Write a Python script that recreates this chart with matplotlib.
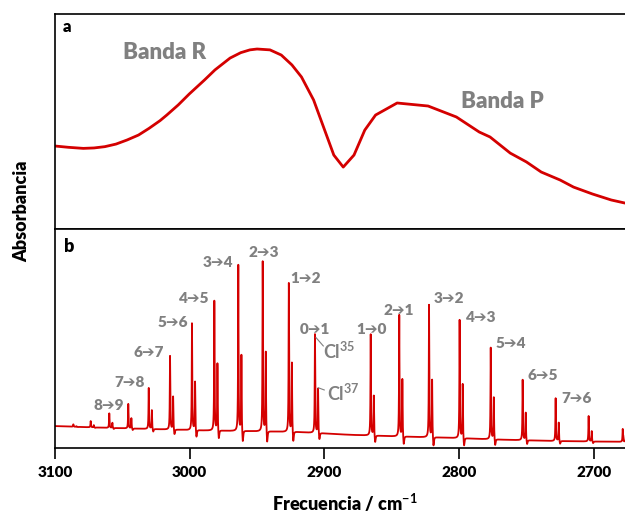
import numpy as np
import matplotlib.pyplot as plt

plt.rcParams['font.family'] = ['Lato', 'DejaVu Sans']
plt.rcParams['font.weight'] = 'bold'
plt.rcParams['mathtext.fontset'] = 'custom'
plt.rcParams['mathtext.rm'] = 'Lato:bold'
plt.rcParams['mathtext.bf'] = 'Lato:bold'

RED = '#d40000'
GREY = '#808080'

# --- panel a: low resolution envelope ---
env_freq = [3100, 3090.1, 3079, 3071.0, 3063, 3054.7, 3046.5, 3038, 3030.2,
            3022.0, 3017, 3008.5, 3000.3, 2989, 2981.2, 2970, 2962.1, 2955.3,
            2950, 2940.4, 2932, 2924.1, 2917, 2908, 2893, 2886, 2878, 2870,
            2862, 2846, 2823, 2802, 2785, 2777, 2762, 2750, 2739, 2725, 2715,
            2701, 2687, 2677]
env_abs = [0.386, 0.380, 0.375, 0.377, 0.383, 0.395, 0.414, 0.437, 0.468,
           0.504, 0.530, 0.577, 0.628, 0.693, 0.740, 0.795, 0.820, 0.833,
           0.837, 0.833, 0.809, 0.763, 0.707, 0.600, 0.344, 0.288, 0.344,
           0.460, 0.530, 0.586, 0.572, 0.521, 0.451, 0.428, 0.353, 0.312,
           0.265, 0.228, 0.195, 0.163, 0.135, 0.121]

# --- panel b: high resolution spectrum ---
base_freq = [3100, 3067, 2992, 2918, 2881, 2844, 2807, 2770, 2732, 2695, 2676]
base_abs = [0.100, 0.093, 0.080, 0.072, 0.060, 0.052, 0.046, 0.038, 0.032, 0.029, 0.028]

# R branch (Cl35 position, Cl35 top, Cl37 top)
r_freq = [2907.0, 2926.4, 2945.8, 2963.9, 2981.7, 2998.3, 3014.6, 3030.4,
          3045.6, 3059.7, 3073.5, 3086.4]
r_top35 = [0.519, 0.752, 0.851, 0.836, 0.671, 0.569, 0.420, 0.274, 0.201,
           0.158, 0.123, 0.108]
r_top37 = [0.274, 0.393, 0.443, 0.429, 0.389, 0.306, 0.237, 0.174, 0.137,
           0.116, 0.105, 0.100]
# P branch
p_freq = [2865.6, 2844.4, 2822.3, 2799.6, 2776.5, 2752.8, 2728.3, 2703.8, 2678.5]
p_top35 = [0.519, 0.607, 0.653, 0.584, 0.458, 0.311, 0.227, 0.146, 0.087]
p_top37 = [0.242, 0.318, 0.315, 0.295, 0.234, 0.163, 0.117, 0.078, 0.060]

r_labels = ['0➔1', '1➔2', '2➔3', '3➔4', '4➔5', '5➔6', '6➔7', '7➔8', '8➔9']
p_labels = ['1➔0', '2➔1', '3➔2', '4➔3', '5➔4', '6➔5', '7➔6']
r_label_pos = [(2907.2, 0.542), (2913.8, 0.775), (2945.2, 0.894), (2978.8, 0.848),
               (2996.7, 0.683), (3012.8, 0.572), (3030.1, 0.437), (3044.9, 0.298),
               (3059.8, 0.196)]
p_label_pos = [(2865.3, 0.542), (2844.5, 0.630), (2807.6, 0.683), (2783.4, 0.597),
               (2761.3, 0.478), (2737.6, 0.331), (2712.8, 0.227)]

shift37 = 2.3


def lorentz(x, c, g):
    return g ** 2 / ((x - c) ** 2 + g ** 2)


x = np.linspace(3100, 2676, 24000)
y = np.interp(x, base_freq[::-1], base_abs[::-1])
centres = r_freq + p_freq
tops35 = r_top35 + p_top35
tops37 = r_top37 + p_top37
for c, t35, t37 in zip(centres, tops35, tops37):
    b = np.interp(c, base_freq[::-1], base_abs[::-1])
    h35 = t35 - b
    h37 = t37 - b
    y = y + h35 * lorentz(x, c, 0.2)
    y = y + h37 * lorentz(x, c - shift37, 0.2)
    y = y - 0.08 * h35 * lorentz(x, c - shift37 - 1.0, 0.4)

fig = plt.figure(figsize=(6.25, 5.17), dpi=100)
ax_a = fig.add_axes([0.088, 0.557, 0.912, 0.416])
ax_b = fig.add_axes([0.088, 0.1335, 0.912, 0.4235], sharex=ax_a)

ax_a.plot(env_freq, env_abs, color=RED, lw=2.0)
ax_a.set_ylim(0, 1)
ax_a.text(3019, 0.823, 'Banda R', color=GREY, fontsize=16, fontweight='heavy',
          ha='center', va='center')
ax_a.text(2768, 0.595, 'Banda P', color=GREY, fontsize=16, fontweight='heavy',
          ha='center', va='center')
ax_a.text(0.014, 0.94, 'a', transform=ax_a.transAxes, fontsize=12,
          fontweight='heavy', va='center', ha='left')

ax_b.plot(x, y, color=RED, lw=1.3)
ax_b.set_ylim(0, 1)
ax_b.text(0.016, 0.919, 'b', transform=ax_b.transAxes, fontsize=13,
          fontweight='heavy', va='center', ha='left')
for lab, (lx, ly) in zip(r_labels + p_labels, r_label_pos + p_label_pos):
    ax_b.text(lx, ly, lab, color=GREY, fontsize=11, fontweight='heavy',
              ha='center', va='center', family=['Lato', 'DejaVu Sans'])

ax_b.plot([2906.2, 2900.8], [0.504, 0.466], color=GREY, lw=0.8)
ax_b.plot([2904.5, 2900.1], [0.275, 0.265], color=GREY, lw=0.8)
ax_b.text(2901.3, 0.44, r'Cl$^{35}$', color=GREY, fontsize=13,
          ha='left', va='center')
ax_b.text(2898.3, 0.25, r'Cl$^{37}$', color=GREY, fontsize=13,
          ha='left', va='center')

ax_b.set_xlim(3100, 2676.8)
ax_b.set_xticks([3100, 3000, 2900, 2800, 2700])

for ax in (ax_a, ax_b):
    ax.spines['right'].set_visible(False)
    ax.set_yticks([])
    for s in ax.spines.values():
        s.set_linewidth(1.2)
ax_a.tick_params(axis='x', bottom=False, labelbottom=False)
ax_b.tick_params(axis='x', direction='out', length=8, width=1.2, pad=5,
                 labelsize=11)
for lbl in ax_b.get_xticklabels():
    lbl.set_fontweight('heavy')

fig.text(0.552, 0.006, r'Frecuencia / cm$^{-1}$', fontsize=13,
         fontweight='heavy', ha='center', va='bottom')
fig.text(0.035, 0.592, 'Absorbancia', fontsize=13, fontweight='heavy',
         rotation=90, ha='center', va='center')

fig.savefig('out.png', dpi=100)
